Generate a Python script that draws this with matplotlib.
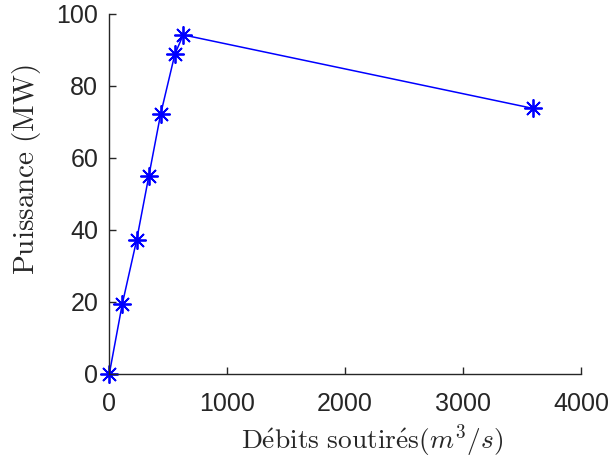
import matplotlib
matplotlib.use("Agg")
import matplotlib.pyplot as plt

debits = [0, 110, 232, 336, 435, 556, 627, 3590]
puissance = [0, 19.4, 37.2, 55.1, 72.1, 88.8, 94.2, 73.8]
xticks = [0, 1000, 2000, 3000, 4000]
yticks = [0, 20, 40, 60, 80, 100]

plt.rcParams['mathtext.fontset'] = 'cm'
fig = plt.figure(figsize=(6.16, 4.59), dpi=100)
ax = fig.add_axes([0.1774, 0.1852, 0.7656, 0.7843])
ax.plot(debits, puissance, color=(0, 0, 1), linewidth=1.1,
        marker=(8, 2, 0), markersize=13, markeredgewidth=1.3)
ax.set_xlim(0, 4000)
ax.set_ylim(0, 100)
ax.set_xticks(xticks)
ax.set_yticks(yticks)
ax.set_xticklabels([str(v) for v in xticks], family='Liberation Sans', fontsize=18)
ax.set_yticklabels([str(v) for v in yticks], family='Liberation Sans', fontsize=18)
for s in ['top', 'right']:
    ax.spines[s].set_visible(False)
for s in ['left', 'bottom']:
    ax.spines[s].set_color('#262626')
    ax.spines[s].set_linewidth(1.0)
ax.tick_params(direction='in', length=5, width=1.0, colors='#262626')
ax.tick_params(axis='x', pad=13)
ax.tick_params(axis='y', pad=8)
for lab in ax.get_xticklabels() + ax.get_yticklabels():
    lab.set_color('#262626')
ax.set_xlabel(r'$\mathrm{D\acute{e}bits\ soutir\acute{e}s}(m^3/s)$', fontsize=19.8, color='#262626')
ax.set_ylabel(r'$\mathrm{Puissance\ (MW)}$', fontsize=21, color='#262626')
ax.xaxis.set_label_coords(0.557, -0.133)
ax.yaxis.set_label_coords(-0.1406, 0.567)
for l in ax.lines:
    l.set_clip_on(False)
fig.savefig('out.png', dpi=100)
